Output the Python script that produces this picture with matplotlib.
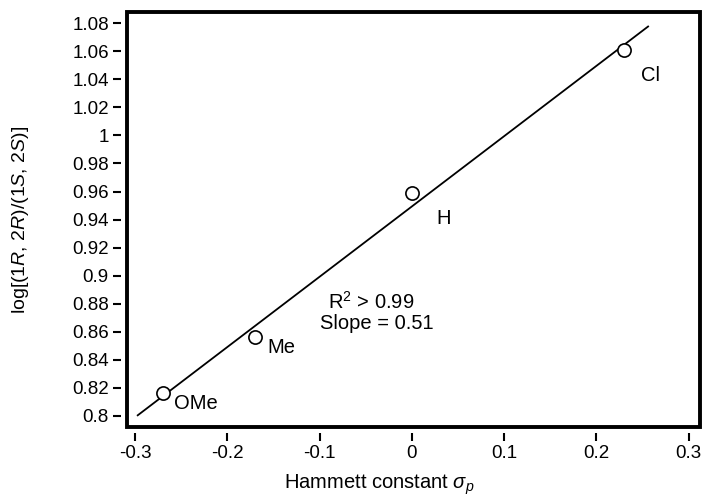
import matplotlib
matplotlib.use("Agg")
import matplotlib.pyplot as plt
import numpy as np
from matplotlib.patches import Rectangle

plt.rcParams["font.family"] = ["Liberation Sans", "DejaVu Sans"]
plt.rcParams["mathtext.fontset"] = "custom"
plt.rcParams["mathtext.rm"] = "Liberation Sans"
plt.rcParams["mathtext.it"] = "Liberation Sans:italic"
plt.rcParams["axes.unicode_minus"] = False

# Hammett sigma_p and log ratio for each substituent
substituents = ["OMe", "Me", "H", "Cl"]
sigma_p = [-0.27, -0.17, 0.00, 0.23]
log_ratio = [0.816, 0.856, 0.959, 1.061]
label_dx = [0.012, 0.013, 0.027, 0.018]
label_dy = [-0.007, -0.007, -0.018, -0.018]

x_ticks = [-0.3, -0.2, -0.1, 0, 0.1, 0.2, 0.3]
y_ticks = np.round(np.arange(0.80, 1.081, 0.02), 2)
fit_range = [-0.297, 0.256]

fig = plt.figure(figsize=(7.09, 4.99), dpi=100)
ax = fig.add_axes([0.179, 0.144, 0.808, 0.832])

slope, intercept = np.polyfit(sigma_p, log_ratio, 1)
xs = np.array(fit_range)
ax.plot(xs, slope * xs + intercept, color="black", lw=1.3, zorder=2)
ax.plot(sigma_p, log_ratio, "o", ms=9.5, mfc="white", mec="black", mew=1.2, zorder=3)

for name, x, y, dx, dy in zip(substituents, sigma_p, log_ratio, label_dx, label_dy):
    ax.text(x + dx, y + dy, name, fontsize=14.5, ha="left", va="center")

ax.text(-0.091, 0.881, r"R$^2$ > 0.99", fontsize=14.5, ha="left", va="center")
ax.text(-0.100, 0.866, "Slope = 0.51", fontsize=14.5, ha="left", va="center")

ax.set_xlim(-0.3087, 0.312)
ax.set_ylim(0.792, 1.088)
ax.set_xticks(x_ticks)
ax.set_xticklabels(["%g" % t for t in x_ticks])
ax.set_yticks(y_ticks)
ax.set_yticklabels(["%g" % t for t in y_ticks])

for side in ["top", "right", "left", "bottom"]:
    ax.spines[side].set_visible(False)
ax.spines["left"].set_position(("outward", 4))
ax.spines["bottom"].set_position(("outward", 4))
ax.add_patch(Rectangle((0, 0), 1, 1, transform=ax.transAxes, fill=False,
                       lw=2.8, edgecolor="black", clip_on=False, zorder=5))

ax.tick_params(direction="out", length=6, width=1.5, labelsize=13.5, pad=3)

ax.set_xlabel(r"Hammett constant $\sigma_{\it{p}}$", fontsize=14.5)
ax.xaxis.set_label_coords(0.44, -0.11)
ax.set_ylabel(r"log[(1$\it{R}$, 2$\it{R}$)/(1$\it{S}$, 2$\it{S}$)]", fontsize=14)
ax.yaxis.set_label_coords(-0.168, 0.5)

fig.savefig("out.png", dpi=100)
